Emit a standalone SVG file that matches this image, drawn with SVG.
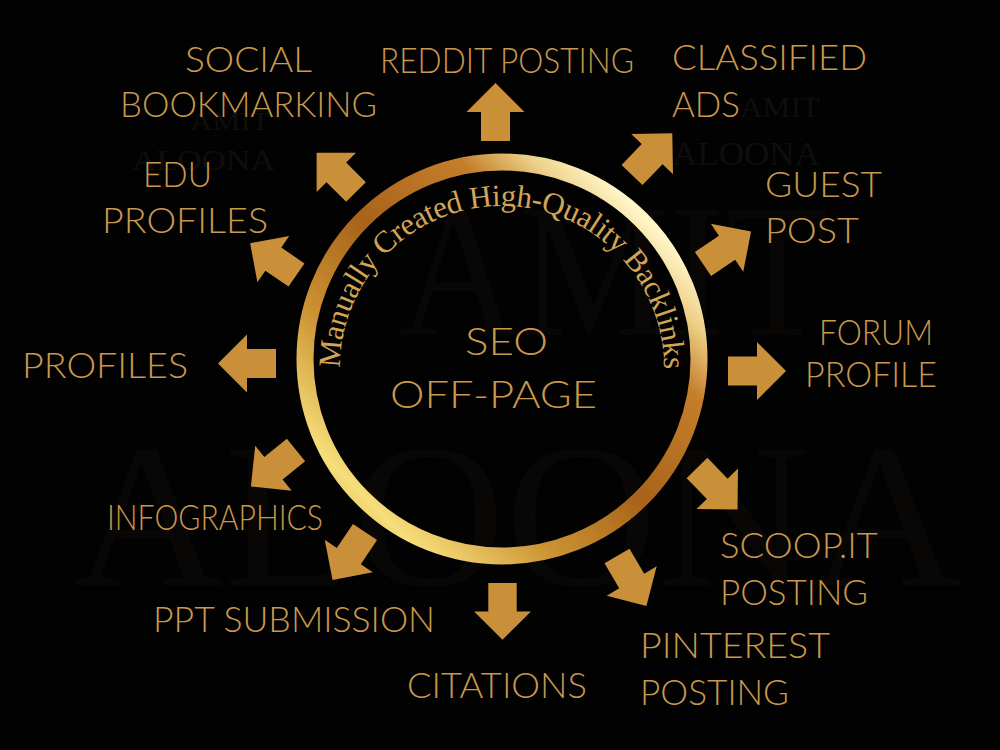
<svg xmlns="http://www.w3.org/2000/svg" width="1000" height="750" viewBox="0 0 1000 750">
  <defs>
    <linearGradient id="ringGrad" gradientUnits="userSpaceOnUse" x1="700" y1="160" x2="300" y2="560">
      <stop offset="0" stop-color="#F6E7A8"/>
      <stop offset="0.14" stop-color="#FFF6C8"/>
      <stop offset="0.21" stop-color="#EDD088"/>
      <stop offset="0.3" stop-color="#C47E2A"/>
      <stop offset="0.5" stop-color="#A8631A"/>
      <stop offset="0.68" stop-color="#CC9434"/>
      <stop offset="0.84" stop-color="#F6DE7A"/>
      <stop offset="0.92" stop-color="#E4BC5C"/>
      <stop offset="1" stop-color="#C88C30"/>
    </linearGradient>
    <path id="arrowShape" d="M0,-14.5 L29,-14.5 L29,-29 L58,0 L29,29 L29,14.5 L0,14.5 Z"/>
    <path id="arcPath" d="M340,368 A162,162 0 1 1 664,368"/>
  </defs>
  <style>
    .lbl { font-family: Lato, "Noto Sans", "Liberation Sans", sans-serif; font-weight: 300; font-size: 35px; fill: #C9984C; }
    .wm { font-family: "Liberation Serif", serif; fill: #100E0B; }
    .wm2 { font-family: "Liberation Serif", serif; fill: #080706; }
    .arrow { fill: #C99039; }
    .arc { font-family: "Liberation Serif", "DejaVu Serif", serif; font-size: 31px; fill: #D2A458; }
    .center { font-family: Lato, "Noto Sans", "Liberation Sans", sans-serif; font-weight: 300; font-size: 38px; fill: #C9984C; }
  </style>
  <rect x="0" y="0" width="1000" height="750" fill="#020202"/>

  <!-- faint watermarks -->
  <g id="watermark">
    <text class="wm2" x="398" y="335" font-size="190" textLength="430" lengthAdjust="spacingAndGlyphs">AMIT</text>
    <text class="wm2" x="72" y="585" font-size="205" textLength="890" lengthAdjust="spacingAndGlyphs">ALOONA</text>
    <text class="wm" x="190" y="130" font-size="26" textLength="80" lengthAdjust="spacingAndGlyphs">AMIT</text>
    <text class="wm" x="132" y="170" font-size="30" textLength="143" lengthAdjust="spacingAndGlyphs">ALOONA</text>
    <text class="wm" x="740" y="117" font-size="30" textLength="80" lengthAdjust="spacingAndGlyphs">AMIT</text>
    <text class="wm" x="672" y="165" font-size="34" textLength="148" lengthAdjust="spacingAndGlyphs">ALOONA</text>
  </g>

  <!-- connectors (arrows) -->
  <g id="connectors">
    <use href="#arrowShape" class="arrow" transform="translate(495.5,141) rotate(-90)"/>
    <use href="#arrowShape" class="arrow" transform="translate(356,192) rotate(-135) scale(0.96)"/>
    <use href="#arrowShape" class="arrow" transform="translate(296.5,275) rotate(-145.5) scale(0.97)"/>
    <use href="#arrowShape" class="arrow" transform="translate(276,363.5) rotate(180)"/>
    <use href="#arrowShape" class="arrow" transform="translate(296,450) rotate(141)"/>
    <use href="#arrowShape" class="arrow" transform="translate(365,532) rotate(124)"/>
    <use href="#arrowShape" class="arrow" transform="translate(502.5,583) rotate(90) scale(0.98)"/>
    <use href="#arrowShape" class="arrow" transform="translate(617,556) rotate(59.5)"/>
    <use href="#arrowShape" class="arrow" transform="translate(697,468) rotate(45.7)"/>
    <use href="#arrowShape" class="arrow" transform="translate(728,371) rotate(0)"/>
    <use href="#arrowShape" class="arrow" transform="translate(703,264) rotate(-34)"/>
    <use href="#arrowShape" class="arrow" transform="translate(632,175) rotate(-46)"/>
  </g>

  <!-- central node -->
  <g id="center-node">
    <circle cx="502" cy="359" r="197" fill="none" stroke="url(#ringGrad)" stroke-width="17"/>
    <text class="arc"><textPath href="#arcPath" textLength="510" lengthAdjust="spacing">Manually Created High-Quality Backlinks</textPath></text>
    <text class="center" x="465" y="355" textLength="83" lengthAdjust="spacingAndGlyphs">SEO</text>
    <text class="center" x="390" y="408" textLength="207" lengthAdjust="spacingAndGlyphs">OFF-PAGE</text>
  </g>

  <g id="node-social-bookmarking">
    <text class="lbl" x="185" y="72" textLength="127" lengthAdjust="spacingAndGlyphs">SOCIAL</text>
    <text class="lbl" x="120" y="117" textLength="257" lengthAdjust="spacingAndGlyphs">BOOKMARKING</text>
  </g>
  <g id="node-reddit-posting">
    <text class="lbl" x="380" y="73" textLength="254" lengthAdjust="spacingAndGlyphs">REDDIT POSTING</text>
  </g>
  <g id="node-classified-ads">
    <text class="lbl" x="672" y="70" textLength="195" lengthAdjust="spacingAndGlyphs">CLASSIFIED</text>
    <text class="lbl" x="672" y="117" textLength="68" lengthAdjust="spacingAndGlyphs">ADS</text>
  </g>
  <g id="node-edu-profiles">
    <text class="lbl" x="143" y="187" textLength="69" lengthAdjust="spacingAndGlyphs">EDU</text>
    <text class="lbl" x="102" y="233" textLength="166" lengthAdjust="spacingAndGlyphs">PROFILES</text>
  </g>
  <g id="node-guest-post">
    <text class="lbl" x="765" y="197" textLength="117" lengthAdjust="spacingAndGlyphs">GUEST</text>
    <text class="lbl" x="765" y="243" textLength="94" lengthAdjust="spacingAndGlyphs">POST</text>
  </g>
  <g id="node-profiles">
    <text class="lbl" x="22" y="378" textLength="166" lengthAdjust="spacingAndGlyphs">PROFILES</text>
  </g>
  <g id="node-forum-profile">
    <text class="lbl" x="819" y="345" textLength="114" lengthAdjust="spacingAndGlyphs">FORUM</text>
    <text class="lbl" x="805" y="387" textLength="132" lengthAdjust="spacingAndGlyphs">PROFILE</text>
  </g>
  <g id="node-infographics">
    <text class="lbl" x="107" y="530" textLength="216" lengthAdjust="spacingAndGlyphs">INFOGRAPHICS</text>
  </g>
  <g id="node-scoopit-posting">
    <text class="lbl" x="720" y="558" textLength="158" lengthAdjust="spacingAndGlyphs">SCOOP.IT</text>
    <text class="lbl" x="720" y="605" textLength="148" lengthAdjust="spacingAndGlyphs">POSTING</text>
  </g>
  <g id="node-ppt-submission">
    <text class="lbl" x="153" y="632" textLength="282" lengthAdjust="spacingAndGlyphs">PPT SUBMISSION</text>
  </g>
  <g id="node-pinterest-posting">
    <text class="lbl" x="640" y="658" textLength="190" lengthAdjust="spacingAndGlyphs">PINTEREST</text>
    <text class="lbl" x="640" y="705" textLength="149" lengthAdjust="spacingAndGlyphs">POSTING</text>
  </g>
  <g id="node-citations">
    <text class="lbl" x="407" y="698" textLength="180" lengthAdjust="spacingAndGlyphs">CITATIONS</text>
  </g>
</svg>
